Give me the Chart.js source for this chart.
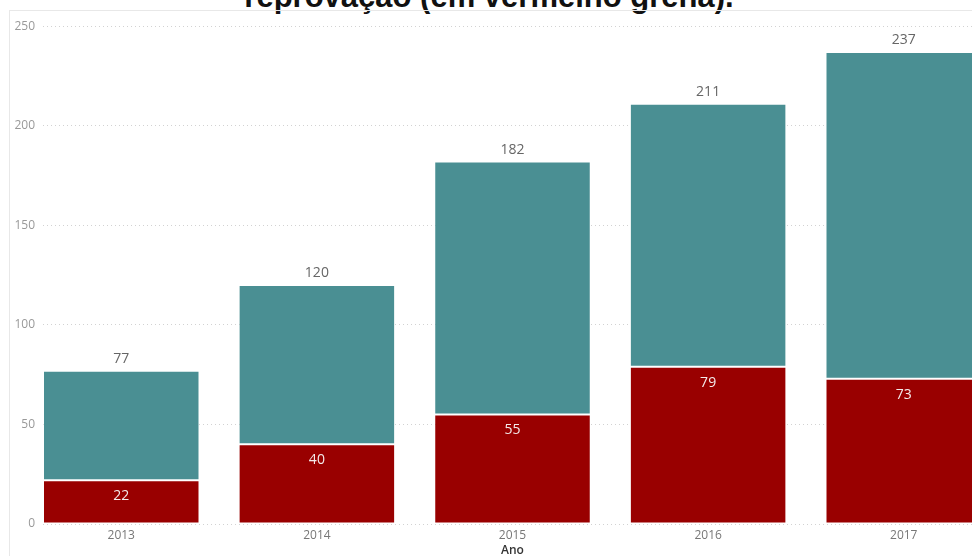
<!DOCTYPE html>
<html lang="pt-BR">
<head>
<meta charset="utf-8">
<script src="https://cdn.jsdelivr.net/npm/chart.js@4"></script>
<style>
  html, body { margin: 0; padding: 0; background: #fff; overflow: hidden; }
  body { width: 972px; height: 556px; position: relative; }
  #titulo {
    position: absolute; left: 0; top: -19px; width: 978px;
    text-align: center; font: bold 31px "Liberation Sans", Arial, sans-serif;
    line-height: 31px; color: #111; white-space: nowrap;
  }
  #moldura {
    position: absolute; left: 9px; top: 10px; width: 1000px; height: 560px;
    border-left: 1px solid #e8e8e8; border-top: 1px solid #e8e8e8;
  }
  #area { position: absolute; left: 10px; top: 11px; width: 972px; height: 545px; }
</style>
</head>
<body>
<div id="titulo">reprovação (em vermelho grená).</div>
<div id="moldura"></div>
<div id="area"><canvas id="grafico"></canvas></div>
<script>
const anos = ["2013", "2014", "2015", "2016", "2017"];
const reprovados = [22, 40, 55, 79, 73];
const aprovados = [55, 80, 127, 132, 164];
const ticksY = [0, 50, 100, 150, 200, 250];

const corReprovados = "#990000";
const corAprovados = "#4a8f93";
const fonte = "'Open Sans', 'Noto Sans', sans-serif";

// rótulos: valor do vermelho dentro da barra, total acima da pilha
const rotulos = {
  id: "rotulos",
  afterDatasetsDraw(chart) {
    const ctx = chart.ctx;
    const barrasRep = chart.getDatasetMeta(0).data;
    const barrasApr = chart.getDatasetMeta(1).data;
    ctx.save();
    ctx.textAlign = "center";
    ctx.textBaseline = "middle";
    ctx.font = "14px " + fonte;
    barrasRep.forEach((bar, i) => {
      ctx.fillStyle = "#f4eaea";
      ctx.fillText(reprovados[i], bar.x, bar.y + 16);
    });
    barrasApr.forEach((bar, i) => {
      ctx.fillStyle = "#666";
      ctx.fillText(reprovados[i] + aprovados[i], bar.x, bar.y - 12);
    });
    ctx.restore();
  }
};

new Chart(document.getElementById("grafico"), {
  type: "bar",
  data: {
    labels: anos,
    datasets: [
      {
        label: "Reprovados",
        data: reprovados,
        backgroundColor: corReprovados,
        borderColor: "rgba(255,255,255,0.4)",
        borderWidth: 1,
        borderSkipped: false,
        barPercentage: 0.8,
        categoryPercentage: 1
      },
      {
        label: "Aprovados",
        data: aprovados,
        backgroundColor: corAprovados,
        borderColor: "rgba(255,255,255,0.4)",
        borderWidth: 1,
        borderSkipped: false,
        barPercentage: 0.8,
        categoryPercentage: 1
      }
    ]
  },
  options: {
    responsive: true,
    maintainAspectRatio: false,
    animation: false,
    layout: { padding: { top: 10, right: 0, left: 0, bottom: 0 } },
    plugins: {
      legend: { display: false },
      tooltip: { enabled: false },
      title: { display: false }
    },
    scales: {
      x: {
        type: "linear",
        stacked: true,
        min: Number(anos[0]) - 0.4,
        max: Number(anos[anos.length - 1]) + 0.4,
        offset: false,
        afterBuildTicks(scale) {
          scale.ticks = anos.map(a => ({ value: Number(a) }));
        },
        afterFit(scale) { scale.height = 32; },
        grid: { display: false, drawTicks: false },
        border: { display: false },
        ticks: {
          callback: v => String(v),
          color: "#777",
          font: { family: fonte, size: 12 },
          padding: 4
        },
        title: {
          display: true,
          text: "Ano",
          color: "#333",
          font: { family: fonte, size: 12, weight: "600" },
          padding: { top: 0, bottom: -2 }
        }
      },
      y: {
        stacked: true,
        min: 0,
        max: 250,
        afterBuildTicks(scale) {
          scale.ticks = ticksY.map(v => ({ value: v }));
        },
        afterFit(scale) { scale.width = 33; },
        grid: {
          color: "#d2d2d2",
          lineWidth: 1,
          drawTicks: false
        },
        border: { display: false, dash: [1, 3] },
        ticks: {
          color: "#999",
          font: { family: fonte, size: 12 },
          padding: 8
        }
      }
    }
  },
  plugins: [rotulos]
});
</script>
</body>
</html>
